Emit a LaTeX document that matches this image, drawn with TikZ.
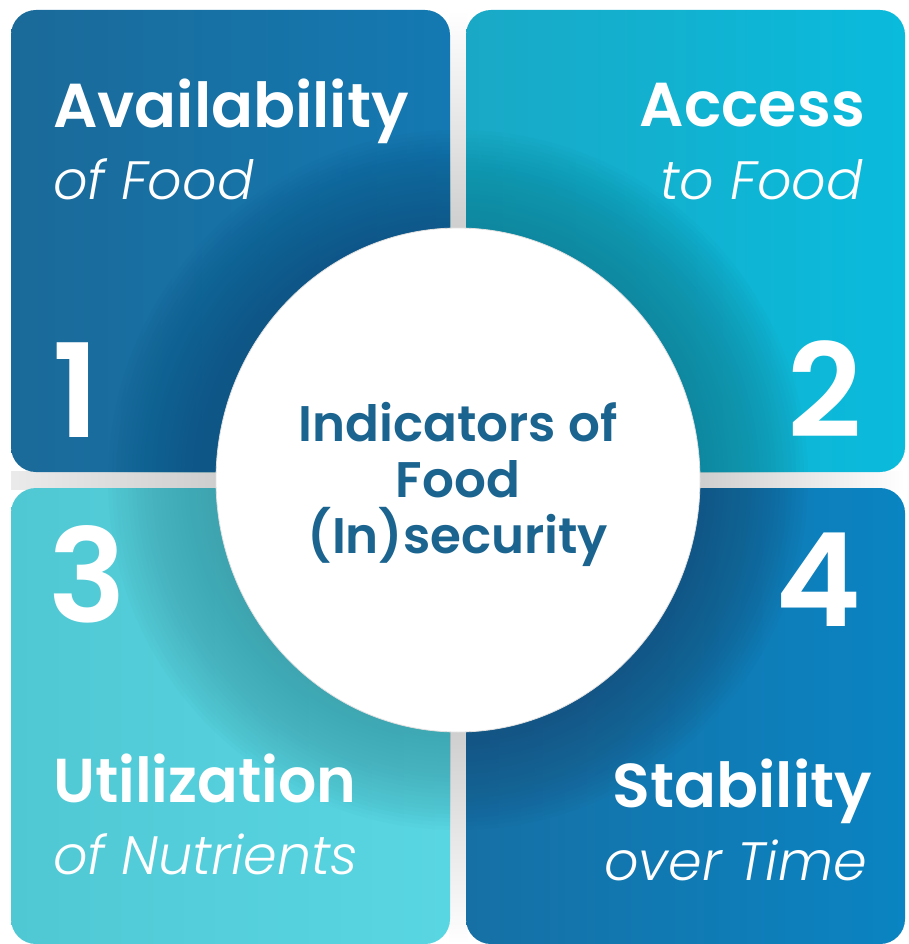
\documentclass[tikz,border=0pt]{standalone}
\usepackage{fontspec}
\setmainfont{Poppins}
\newfontfamily\hfont{Poppins SemiBold}
\newfontfamily\lfont{Poppins Light Italic}
\definecolor{tlA}{HTML}{1A6A99}
\definecolor{tlB}{HTML}{1479B2}
\definecolor{tlD}{HTML}{0E5685}
\definecolor{trA}{HTML}{19A9C6}
\definecolor{trB}{HTML}{0ABBDC}
\definecolor{trD}{HTML}{0E8499}
\definecolor{blA}{HTML}{50C8D4}
\definecolor{blB}{HTML}{58D6E2}
\definecolor{blD}{HTML}{3E9FAA}
\definecolor{brA}{HTML}{1670A5}
\definecolor{brB}{HTML}{0A84C2}
\definecolor{brD}{HTML}{135580}
\definecolor{ctext}{HTML}{1B6490}
\tikzset{
  head/.style={inner sep=0pt, text=white, font=\hfont\fontsize{62}{64}\selectfont},
  sub/.style={inner sep=0pt, text=white, font=\lfont\fontsize{54}{56}\selectfont},
  num/.style={inner sep=0pt, text=white, font=\hfont\fontsize{130}{130}\selectfont},
  boxr/.style={rounded corners=25pt},
  ring/.style={opacity=0.05}
}
\begin{document}
\begin{tikzpicture}[x=1pt,y=-1pt]
\useasboundingbox (0,0) rectangle (908,944);
\fill[white] (0,0) rectangle (908,944);
% gap strips
\shade[top color=white, bottom color=black!20] (449,10) rectangle (467,240);
\shade[top color=black!20, bottom color=white] (449,720) rectangle (467,944);
\shade[left color=black!8, right color=black!20] (11,471) rectangle (230,489);
\shade[left color=black!20, right color=white] (690,471) rectangle (905,489);
% boxes
\shade[boxr, shading angle=135, left color=tlA, right color=tlB] (11,10) rectangle (450,472);
\shade[boxr, shading angle=135, left color=trA, right color=trB] (466,10) rectangle (905,472);
\shade[boxr, shading angle=135, left color=blA, right color=blB] (11,488) rectangle (450,944);
\shade[boxr, shading angle=135, left color=brA, right color=brB] (466,488) rectangle (905,944);
% darkening near circle
\begin{scope}
\clip[boxr] (11,10) rectangle (450,472);
\foreach \r in {246,250,...,350} \fill[tlD, ring] (458,480) circle (\r);
\end{scope}
\begin{scope}
\clip[boxr] (466,10) rectangle (905,472);
\foreach \r in {246,250,...,350} \fill[trD, ring] (458,480) circle (\r);
\end{scope}
\begin{scope}
\clip[boxr] (11,488) rectangle (450,944);
\foreach \r in {246,250,...,350} \fill[blD, ring] (458,480) circle (\r);
\end{scope}
\begin{scope}
\clip[boxr] (466,488) rectangle (905,944);
\foreach \r in {246,250,...,350} \fill[brD, ring] (458,480) circle (\r);
\end{scope}
% circle
\fill[white, draw=black!12, line width=0.8pt] (458,480) ellipse (242 and 252);
\node[font=\hfont\fontsize{50}{56}\selectfont, text=ctext, align=center, inner sep=0pt] (center) at (458,484) {Indicators of\\Food\\(In)security};
% texts
\node[head, anchor=base west] (t1) at (53,128) {Availability};
\node[sub, anchor=base west] (s1) at (53,200) {of Food};
\node[num, anchor=base west] (n1) at (52,437) {1};
\node[head, anchor=base east] (t2) at (865,127) {Access};
\node[sub, anchor=base east] (s2) at (863,199) {to Food};
\node[num, anchor=base east] (n2) at (862,437) {2};
\node[num, anchor=base west] (n3) at (48,622) {3};
\node[num, anchor=base east] (n4) at (862,626) {4};
\node[head, anchor=base west, xscale=0.97] (t3) at (53,802) {Utilization};
\node[sub, anchor=base west] (s3) at (53,874) {of Nutrients};
\node[head, anchor=base east] (t4) at (872,807) {Stability};
\node[sub, anchor=base east] (s4) at (867,880) {over Time};
\end{tikzpicture}
\end{document}
